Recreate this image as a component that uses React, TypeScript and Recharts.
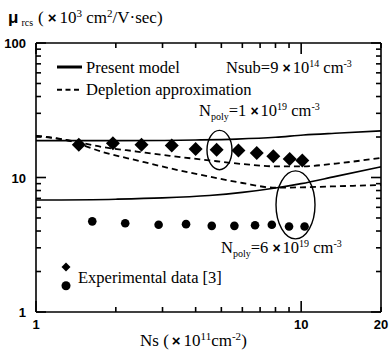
import React from 'react';
import { ComposedChart, Line, Scatter, XAxis, YAxis } from 'recharts';

// ---- axis ticks ----
const xTicks = [1, 2, 3, 4, 5, 6, 7, 8, 9, 10, 20];
const xLongTicks = [1, 10];
const xLabels = [1, 10, 20];
const yTicks = [1, 2, 3, 4, 5, 6, 7, 8, 9, 10, 20, 30, 40, 50, 60, 70, 80, 90, 100];
const yLongTicks = [1, 10, 100];
const yLabels = [1, 10, 100];

// ---- series (Ns in 1e11 cm^-2, mu in 1e3 cm^2/Vs) ----
const presentPoly1 = [
  { ns: 1, mu: 18.8 }, { ns: 2, mu: 18.8 }, { ns: 3, mu: 18.85 }, { ns: 4, mu: 19.0 },
  { ns: 5.7, mu: 19.3 }, { ns: 8, mu: 19.9 }, { ns: 10.2, mu: 20.7 }, { ns: 14, mu: 21.4 }, { ns: 20, mu: 22.2 },
];
const presentPoly6 = [
  { ns: 1, mu: 6.8 }, { ns: 2, mu: 6.9 }, { ns: 3, mu: 7.05 }, { ns: 4.5, mu: 7.35 }, { ns: 6, mu: 7.75 },
  { ns: 8, mu: 8.35 }, { ns: 10, mu: 9.0 }, { ns: 13.5, mu: 10.2 }, { ns: 20, mu: 12.0 },
];
const depletionPoly1 = [
  { ns: 1, mu: 20.4 }, { ns: 1.3, mu: 19.0 }, { ns: 1.8, mu: 16.8 }, { ns: 2.4, mu: 15.6 }, { ns: 3.2, mu: 14.5 },
  { ns: 4.5, mu: 13.4 }, { ns: 6, mu: 12.6 }, { ns: 8, mu: 12.1 }, { ns: 10, mu: 12.1 }, { ns: 13.5, mu: 12.7 }, { ns: 20, mu: 14.0 },
];
const depletionPoly6 = [
  { ns: 1, mu: 20.4 }, { ns: 1.3, mu: 19.0 }, { ns: 1.8, mu: 15.4 }, { ns: 2.4, mu: 13.4 }, { ns: 3.2, mu: 11.7 },
  { ns: 4.8, mu: 9.9 }, { ns: 6, mu: 9.1 }, { ns: 8, mu: 8.4 }, { ns: 10, mu: 8.45 }, { ns: 13.5, mu: 8.6 }, { ns: 20, mu: 8.8 },
];
const expPoly1 = [
  { ns: 1.45, mu: 17.5 }, { ns: 1.95, mu: 18.0 }, { ns: 2.5, mu: 17.5 }, { ns: 3.25, mu: 17.3 },
  { ns: 4.0, mu: 16.3 }, { ns: 4.8, mu: 16.1 }, { ns: 5.8, mu: 15.9 }, { ns: 6.8, mu: 15.2 },
  { ns: 7.85, mu: 14.4 }, { ns: 9.05, mu: 13.7 }, { ns: 10.1, mu: 13.4 },
];
const expPoly6 = [
  { ns: 1.63, mu: 4.72 }, { ns: 2.17, mu: 4.57 }, { ns: 2.9, mu: 4.45 }, { ns: 3.68, mu: 4.5 },
  { ns: 4.6, mu: 4.37 }, { ns: 5.6, mu: 4.37 }, { ns: 6.7, mu: 4.42 }, { ns: 7.75, mu: 4.45 },
  { ns: 9.0, mu: 4.32 }, { ns: 10.3, mu: 4.32 },
];
const ellipsePoly1 = [{ ns: 4.92, mu: 16.0 }];
const ellipsePoly6 = [{ ns: 9.52, mu: 6.26 }];

const SERIF = "'Liberation Serif', 'Times New Roman', Times, 'DejaVu Serif', serif";
const SANS = "'Liberation Sans', Arial, Helvetica, sans-serif";
const W = 389;
const H = 356;
const AX = 1.6;

const BottomTick = (p: any) => {
  const v = p.payload.value;
  const len = xLongTicks.includes(v) ? 11 : 5;
  return (
    <g>
      <line x1={p.x} y1={p.y} x2={p.x} y2={p.y - len} stroke="#000" strokeWidth={AX} />
      {xLabels.includes(v) && (
        <text x={p.x} y={p.y + 17} textAnchor="middle" style={{ fontFamily: SANS, fontWeight: 'bold', fontSize: 13 }} fill="#000">{v}</text>
      )}
    </g>
  );
};
const TopTick = (p: any) => {
  const v = p.payload.value;
  const len = xLongTicks.includes(v) ? 11 : 5;
  return <line x1={p.x} y1={p.y} x2={p.x} y2={p.y + len} stroke="#000" strokeWidth={AX} />;
};
const LeftTick = (p: any) => {
  const v = p.payload.value;
  const len = yLongTicks.includes(v) ? 10 : 5;
  return (
    <g>
      <line x1={p.x} y1={p.y} x2={p.x + len} y2={p.y} stroke="#000" strokeWidth={AX} />
      {yLabels.includes(v) && (
        <text x={p.x - 10} y={p.y + 5} textAnchor="end" style={{ fontFamily: SANS, fontWeight: 'bold', fontSize: 13 }} fill="#000">{v}</text>
      )}
    </g>
  );
};
const RightTick = (p: any) => {
  const v = p.payload.value;
  const len = yLongTicks.includes(v) ? 10 : 5;
  return <line x1={p.x} y1={p.y} x2={p.x - len} y2={p.y} stroke="#000" strokeWidth={AX} />;
};

const Diamond = (p: any) => {
  const s = 7;
  return <polygon points={`${p.cx},${p.cy - s} ${p.cx + s},${p.cy} ${p.cx},${p.cy + s} ${p.cx - s},${p.cy}`} fill="#000" />;
};
const Dot = (p: any) => <circle cx={p.cx} cy={p.cy} r={4.3} fill="#000" />;
const Ellipse1 = (p: any) => <ellipse cx={p.cx} cy={p.cy} rx={12.5} ry={19.7} fill="none" stroke="#000" strokeWidth={1.4} />;
const Ellipse6 = (p: any) => <ellipse cx={p.cx} cy={p.cy} rx={19.5} ry={34} fill="none" stroke="#000" strokeWidth={1.4} />;

export default function App() {
  const lineCommon = { xAxisId: 'x', yAxisId: 'y', dataKey: 'mu', dot: false, activeDot: false, type: 'monotone' as const, stroke: '#000', isAnimationActive: false };
  const serif = { fontFamily: SERIF, fontSize: 16.5 };
  const txt = { style: serif, fill: '#000' };
  const times = <tspan style={{ fontFamily: SANS, fontWeight: 'bold', fontSize: 14 }}>×</tspan>;
  const small = { fontSize: 10 };
  return (
    <div style={{ position: 'relative', width: W, height: H }}>
      <style>{`body{margin:0}`}</style>
      <ComposedChart width={W} height={H} margin={{ top: 33, right: 0, bottom: 0, left: 0 }}>
        <XAxis xAxisId="x" dataKey="ns" type="number" scale="log" domain={[1, 20]} allowDataOverflow
          ticks={xTicks} interval={0} height={44} tickSize={0} tickMargin={0} tickLine={false}
          axisLine={{ stroke: '#000', strokeWidth: AX }} tick={BottomTick} />
        <XAxis xAxisId="xt" orientation="top" dataKey="ns" type="number" scale="log" domain={[1, 20]} allowDataOverflow
          ticks={xTicks} interval={0} height={10} tickSize={0} tickMargin={0} tickLine={false}
          axisLine={{ stroke: '#000', strokeWidth: AX }} tick={TopTick} />
        <YAxis yAxisId="y" dataKey="mu" type="number" scale="log" domain={[1, 100]} allowDataOverflow
          ticks={yTicks} interval={0} width={36} tickSize={0} tickMargin={0} tickLine={false}
          axisLine={{ stroke: '#000', strokeWidth: AX }} tick={LeftTick} />
        <YAxis yAxisId="yr" orientation="right" dataKey="mu" type="number" scale="log" domain={[1, 100]} allowDataOverflow
          ticks={yTicks} interval={0} width={8} tickSize={0} tickMargin={0} tickLine={false}
          axisLine={{ stroke: '#000', strokeWidth: AX }} tick={RightTick} />

        <Line {...lineCommon} data={presentPoly1} strokeWidth={1.6} />
        <Line {...lineCommon} data={presentPoly6} strokeWidth={1.6} />
        <Line {...lineCommon} data={depletionPoly1} strokeWidth={1.8} strokeDasharray="6 4" />
        <Line {...lineCommon} data={depletionPoly6} strokeWidth={1.8} strokeDasharray="6 4" />
        <Scatter xAxisId="x" yAxisId="y" data={expPoly1} shape={Diamond} isAnimationActive={false} />
        <Scatter xAxisId="x" yAxisId="y" data={expPoly6} shape={Dot} isAnimationActive={false} />
        <Scatter xAxisId="x" yAxisId="y" data={ellipsePoly1} shape={Ellipse1} isAnimationActive={false} />
        <Scatter xAxisId="x" yAxisId="y" data={ellipsePoly6} shape={Ellipse6} isAnimationActive={false} />
      </ComposedChart>

      <svg width={W} height={H} style={{ position: 'absolute', left: 0, top: 0, pointerEvents: 'none' }}>
        {/* title */}
        <text x={8} y={23} fill="#000" style={{ fontFamily: SERIF, fontSize: 17 }}>
          <tspan style={{ fontFamily: SANS, fontWeight: 'bold', fontSize: 17 }}>μ</tspan>
          <tspan style={{ fontSize: 10 }} dy={3} dx={3}>rcs</tspan>
          <tspan dy={-3} dx={5}>(</tspan>
          <tspan style={{ fontFamily: SANS, fontWeight: 'bold', fontSize: 15 }} dx={4}>×</tspan>
          <tspan dx={3}>10</tspan>
          <tspan style={{ fontSize: 11 }} dy={-6}>3</tspan>
          <tspan dy={6}> cm</tspan>
          <tspan style={{ fontSize: 11 }} dy={-6}>2</tspan>
          <tspan dy={6}>/V·sec)</tspan>
        </text>

        {/* legend */}
        <line x1={57} y1={67} x2={82} y2={67} stroke="#000" strokeWidth={3} />
        <text x={86} y={73} {...txt}>Present model</text>
        <line x1={57} y1={89.7} x2={82} y2={89.7} stroke="#000" strokeWidth={2} strokeDasharray="5 3.5" />
        <text x={86} y={95} {...txt}>Depletion approximation</text>

        <text x={226} y={73} {...txt}>
          Nsub=9 {times}<tspan dx={2}>10</tspan>
          <tspan style={small} dy={-6}>14</tspan>
          <tspan dy={6}> cm</tspan>
          <tspan style={small} dy={-6}>-3</tspan>
        </text>

        <text x={199} y={116} {...txt}>
          N<tspan style={small} dy={4}>poly</tspan>
          <tspan dy={-4}>=1 </tspan>{times}<tspan dx={2}>10</tspan>
          <tspan style={small} dy={-6}>19</tspan>
          <tspan dy={6}> cm</tspan>
          <tspan style={small} dy={-6}>-3</tspan>
        </text>

        <text x={221} y={253} {...txt}>
          N<tspan style={small} dy={4}>poly</tspan>
          <tspan dy={-4}>=6 </tspan>{times}<tspan dx={2}>10</tspan>
          <tspan style={small} dy={-6}>19</tspan>
          <tspan dy={6}> cm</tspan>
          <tspan style={small} dy={-6}>-3</tspan>
        </text>

        <polygon points="66,262.5 70.5,267 66,271.5 61.5,267" fill="#000" />
        <circle cx={66} cy={285.7} r={4.5} fill="#000" />
        <text x={78} y={283} {...txt}>Experimental data [3]</text>

        {/* x-axis title */}
        <text x={140} y={346} fill="#000" style={{ fontFamily: SERIF, fontSize: 17 }}>
          Ns (<tspan style={{ fontFamily: SANS, fontWeight: 'bold', fontSize: 15 }} dx={3}>×</tspan>
          <tspan dx={3}>10</tspan>
          <tspan style={{ fontSize: 11 }} dy={-6}>11</tspan>
          <tspan dy={6}>cm</tspan>
          <tspan style={{ fontSize: 11 }} dy={-6}>-2</tspan>
          <tspan dy={6}>)</tspan>
        </text>
      </svg>
    </div>
  );
}
